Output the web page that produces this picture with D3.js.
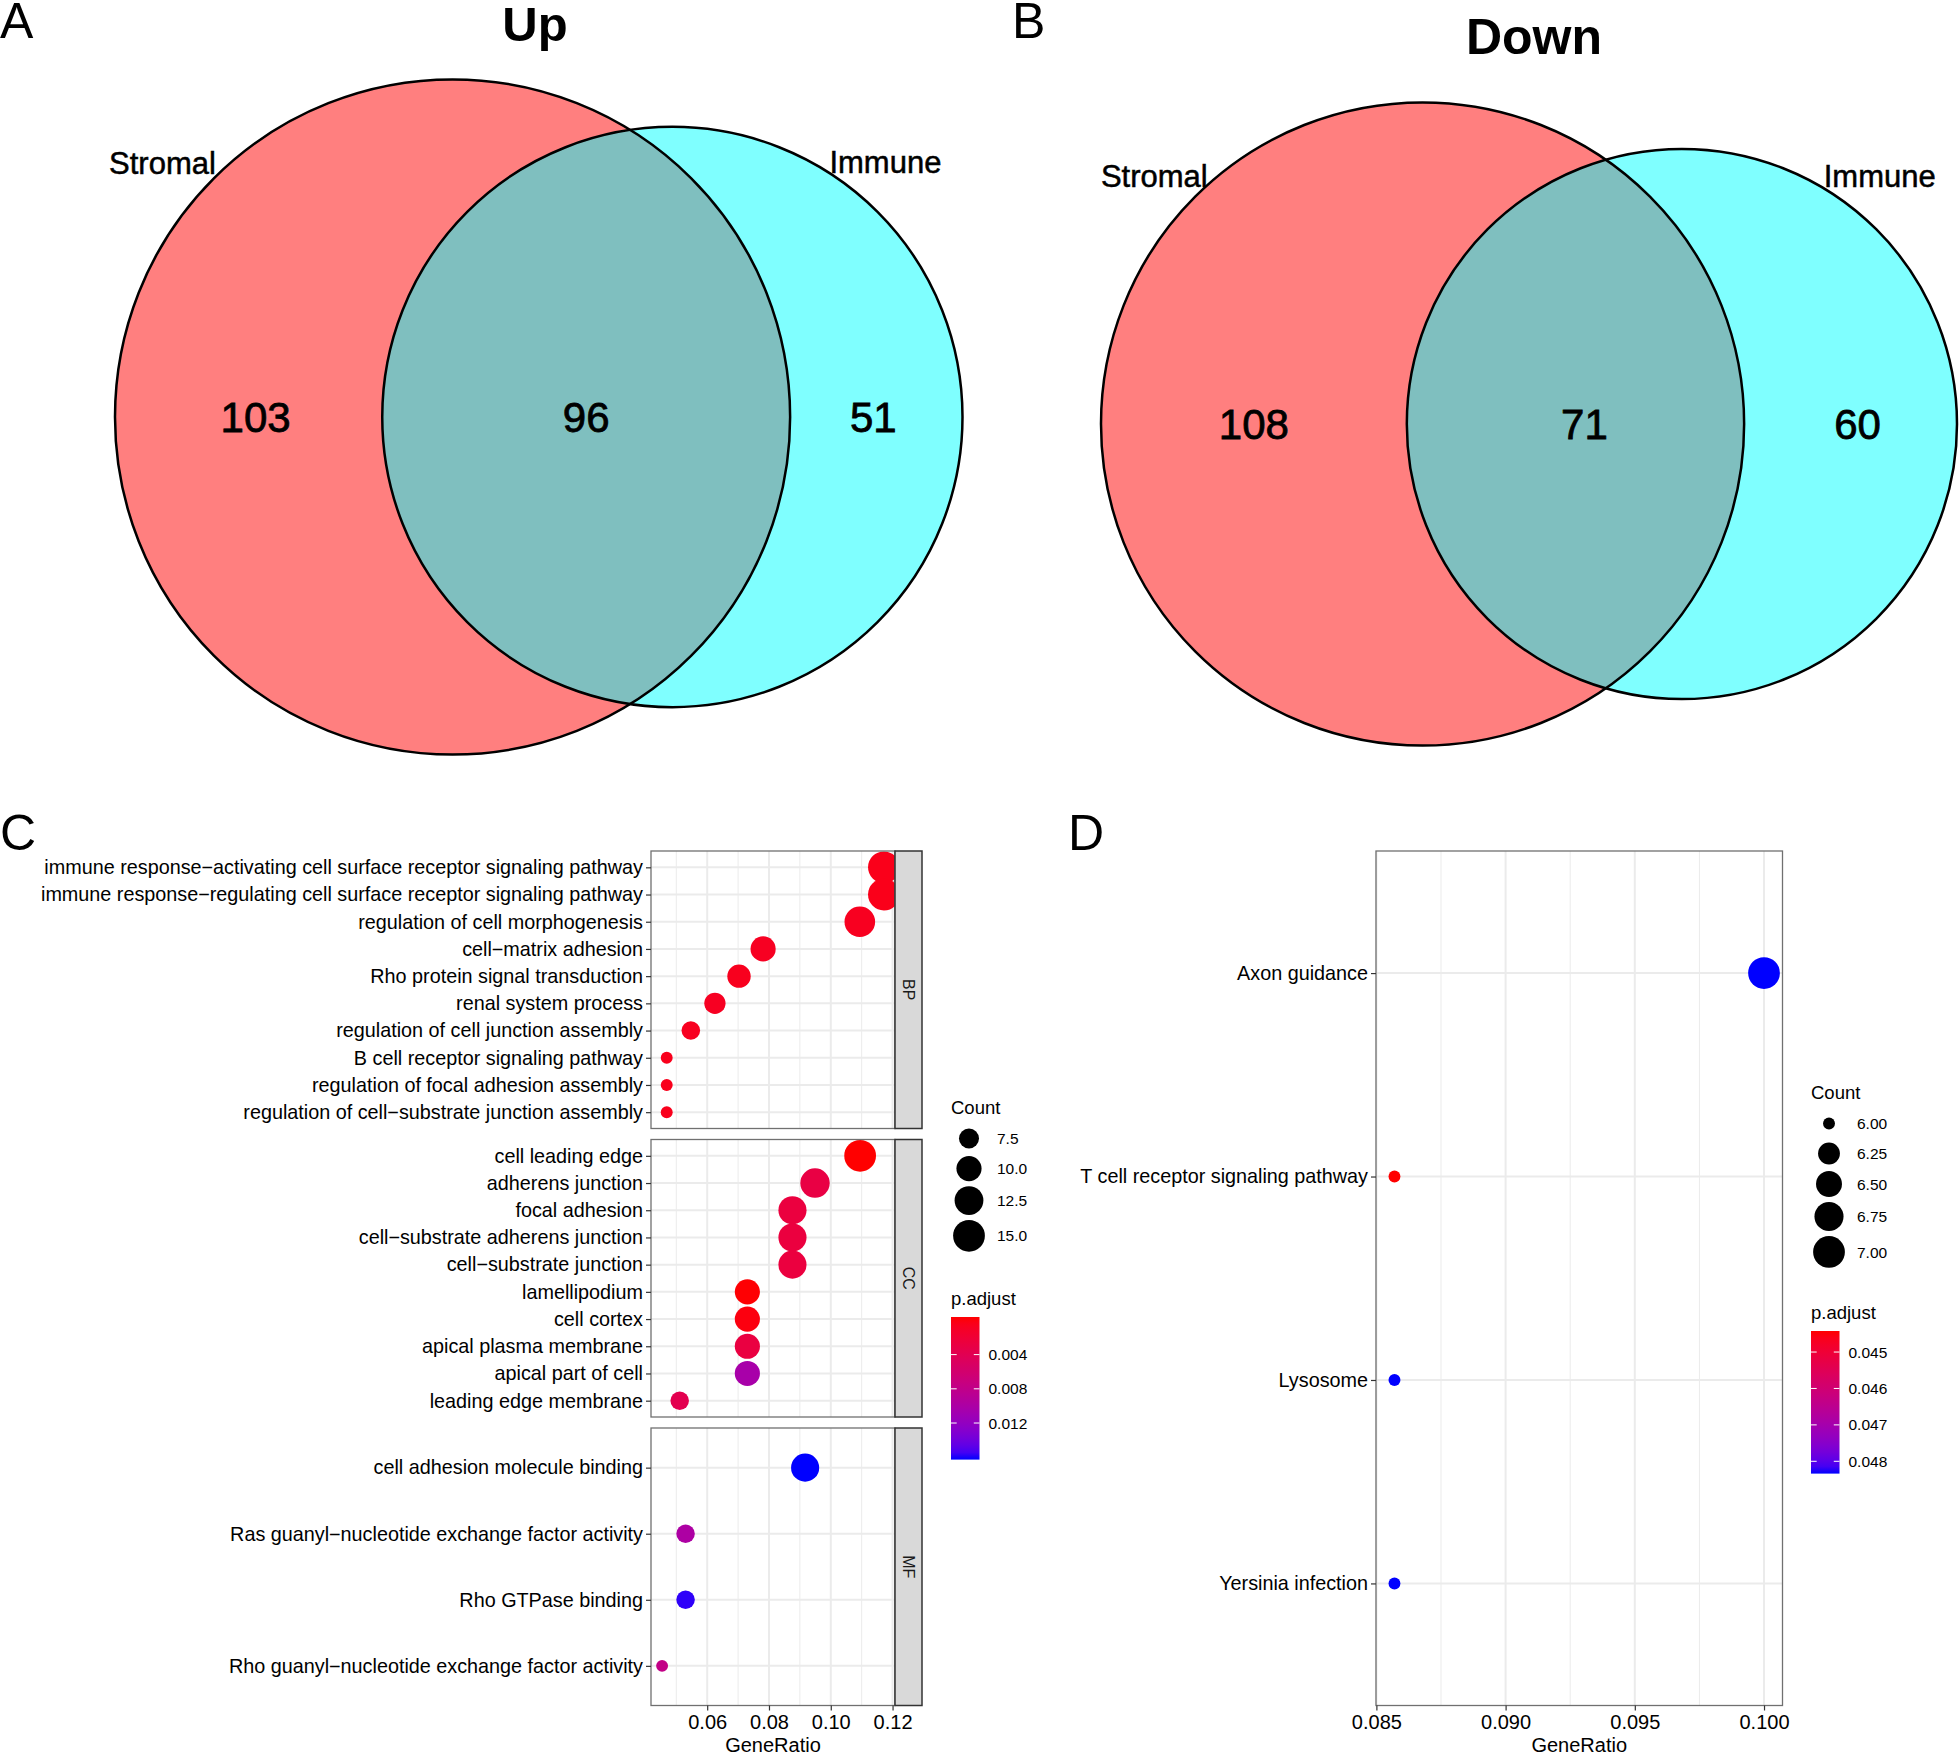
<!DOCTYPE html>
<html>
<head>
<meta charset="utf-8">
<script src="https://cdn.jsdelivr.net/npm/d3@7"></script>
<style>
  body { margin: 0; background: #fff; }
  svg { display: block; font-family: "Liberation Sans", Arial, sans-serif; }
</style>
</head>
<body>
<div id="chart"></div>
<script>
// ---- data ----
const vennSets = ['Stromal', 'Immune'];
const upCounts = [103, 96, 51];    // stromal only, both, immune only
const downCounts = [108, 71, 60];

const bpTerms = [
  'immune response\u2212activating cell surface receptor signaling pathway',
  'immune response\u2212regulating cell surface receptor signaling pathway',
  'regulation of cell morphogenesis',
  'cell\u2212matrix adhesion',
  'Rho protein signal transduction',
  'renal system process',
  'regulation of cell junction assembly',
  'B cell receptor signaling pathway',
  'regulation of focal adhesion assembly',
  'regulation of cell\u2212substrate junction assembly',
];
const bpRatio = [0.1172, 0.1172, 0.1094, 0.0781, 0.0703, 0.0625, 0.0547, 0.0469, 0.0469, 0.0469];
const bpCount = [15, 15, 14, 10, 9, 8, 7, 6, 6, 6];
const bpPadj = [0.0008, 0.0008, 0.0011, 0.0012, 0.0010, 0.0012, 0.0011, 0.0009, 0.0009, 0.0009];

const ccTerms = [
  'cell leading edge',
  'adherens junction',
  'focal adhesion',
  'cell\u2212substrate adherens junction',
  'cell\u2212substrate junction',
  'lamellipodium',
  'cell cortex',
  'apical plasma membrane',
  'apical part of cell',
  'leading edge membrane',
];
const ccRatio = [0.1095, 0.0949, 0.0876, 0.0876, 0.0876, 0.0730, 0.0730, 0.0730, 0.0730, 0.0511];
const ccCount = [15, 13, 12, 12, 12, 10, 10, 10, 10, 7];
const ccPadj = [0.00002, 0.0032, 0.0029, 0.0029, 0.0029, 0.0001, 0.0004, 0.0030, 0.0102, 0.0040];

const mfTerms = [
  'cell adhesion molecule binding',
  'Ras guanyl\u2212nucleotide exchange factor activity',
  'Rho GTPase binding',
  'Rho guanyl\u2212nucleotide exchange factor activity',
];
const mfRatio = [0.0917, 0.0530, 0.0530, 0.0454];
const mfCount = [12, 7, 7, 6];
const mfPadj = [0.01586, 0.0098, 0.0155, 0.0078];

const keggTerms = ['Axon guidance', 'T cell receptor signaling pathway', 'Lysosome', 'Yersinia infection'];
const keggRatio = [0.1000, 0.0857, 0.0857, 0.0857];
const keggCount = [7, 6, 6, 6];
const keggPadj = [0.04824, 0.04452, 0.04824, 0.04824];

const goTicks = [0.06, 0.08, 0.10, 0.12];
const goMinor = [0.05, 0.07, 0.09, 0.11];
const keggTicks = [0.085, 0.090, 0.095, 0.100];
const keggMinor = [0.0875, 0.0925, 0.0975];
const goCountBreaks = [7.5, 10, 12.5, 15];
const keggCountBreaks = [6, 6.25, 6.5, 6.75, 7];
const goPadjBreaks = [0.004, 0.008, 0.012];
const keggPadjBreaks = [0.045, 0.046, 0.047, 0.048];

// ---- setup ----
const width = 1960;
const height = 1754;
const sizeK = 3.97; // px per ggplot size unit

const svg = d3.select('#chart').append('svg')
  .attr('width', width)
  .attr('height', height);
const defs = svg.append('defs');

function panelLetter(text, x, y) {
  svg.append('text')
    .attr('x', x).attr('y', y)
    .attr('font-size', 50)
    .text(text);
}

panelLetter('A', 0, 38);
panelLetter('B', 1012, 38);
panelLetter('C', 0, 850);
panelLetter('D', 1068, 850);

// ---- venn ----
function lensArea(r1, r2, d) {
  if (d >= r1 + r2) return 0;
  if (d <= Math.abs(r1 - r2)) return Math.PI * Math.min(r1, r2) ** 2;
  const a1 = Math.acos((d * d + r1 * r1 - r2 * r2) / (2 * d * r1));
  const a2 = Math.acos((d * d + r2 * r2 - r1 * r1) / (2 * d * r2));
  return r1 * r1 * a1 + r2 * r2 * a2
    - 0.5 * Math.sqrt((-d + r1 + r2) * (d + r1 - r2) * (d - r1 + r2) * (d + r1 + r2));
}

function drawVenn(counts, opt) {
  const nA = counts[0] + counts[1];
  const nB = counts[2] + counts[1];
  // unit scale: area proportional to count
  const r = d3.scaleSqrt().domain([0, 1]).range([0, 1]);
  const r1u = r(nA);
  const r2u = r(nB);
  const target = Math.PI * counts[1];
  let lo = Math.abs(r1u - r2u);
  let hi = r1u + r2u;
  for (let i = 0; i < 60; i++) {
    const mid = (lo + hi) / 2;
    if (lensArea(r1u, r2u, mid) > target) lo = mid; else hi = mid;
  }
  const du = (lo + hi) / 2;
  const k = opt.w / (r1u + r2u + du);
  const r1 = r1u * k;
  const r2 = r2u * k;
  const d = du * k;
  const cx1 = opt.cx - opt.w / 2 + r1;
  const cx2 = cx1 + d;
  const cy = opt.cy;

  const g = svg.append('g');
  g.append('circle').attr('cx', cx1).attr('cy', cy).attr('r', r1)
    .attr('fill', 'red').attr('fill-opacity', 0.5);
  g.append('circle').attr('cx', cx2).attr('cy', cy).attr('r', r2)
    .attr('fill', 'cyan').attr('fill-opacity', 0.5);
  [[cx1, r1], [cx2, r2]].forEach(([cx, rr]) => {
    g.append('circle').attr('cx', cx).attr('cy', cy).attr('r', rr)
      .attr('fill', 'none').attr('stroke', '#000').attr('stroke-width', 2.5);
  });

  const edges = [cx1 - r1, cx2 - r2, cx1 + r1, cx2 + r2];
  const numX = [(edges[0] + edges[1]) / 2, (edges[1] + edges[2]) / 2, (edges[2] + edges[3]) / 2];
  g.selectAll('.num')
    .data(counts)
    .enter()
    .append('text')
    .attr('class', 'num')
    .attr('x', (v, i) => numX[i] + opt.numShift[i])
    .attr('y', cy)
    .attr('dy', '0.36em')
    .attr('text-anchor', 'middle')
    .attr('font-size', 42)
    .attr('stroke', '#000')
    .attr('stroke-width', 0.8)
    .text(v => v);

  const circles = [[cx1, r1], [cx2, r2]];
  const catX = (i) => circles[i][0] + (circles[i][1] + opt.catDist[i]) * Math.cos(opt.catAngles[i] * Math.PI / 180);
  const catY = (i) => cy + (circles[i][1] + opt.catDist[i]) * Math.sin(opt.catAngles[i] * Math.PI / 180);
  g.selectAll('.cat')
    .data(vennSets)
    .enter()
    .append('text')
    .attr('class', 'cat')
    .attr('x', (s, i) => catX(i))
    .attr('y', (s, i) => catY(i))
    .attr('dy', '0.36em')
    .attr('text-anchor', 'middle')
    .attr('font-size', 31)
    .attr('stroke', '#000')
    .attr('stroke-width', 0.5)
    .text(s => s);

  g.append('text')
    .attr('x', opt.titleX)
    .attr('y', opt.titleY)
    .attr('text-anchor', 'middle')
    .attr('font-size', opt.titleSize)
    .attr('font-weight', 'bold')
    .text(opt.title);
}

drawVenn(upCounts, {
  cx: 538.75, cy: 417, w: 847.5, catAngles: [-138.8, -50.1], catDist: [48, 42], numShift: [7, 0, -3],
  title: 'Up', titleX: 535, titleY: 41, titleSize: 49,
});
drawVenn(downCounts, {
  cx: 1529, cy: 424, w: 856, catAngles: [-137.2, -51.4], catDist: [44, 42], numShift: [0, 9, 7],
  title: 'Down', titleX: 1534, titleY: 54, titleSize: 50,
});

// ---- dot plots ----
function sizeScale(countDomain) {
  const t = d3.scaleLinear().domain(countDomain).range([0, 1]);
  const s = d3.scaleSqrt().domain([0, 1]).range([3 * sizeK / 2, 8 * sizeK / 2]);
  return c => s(t(c));
}

function expandedDomain(values) {
  const [a, b] = d3.extent(values);
  const pad = (b - a) * 0.05;
  return [a - pad, b + pad];
}

let clipId = 0;
function drawPanel(p) {
  const g = svg.append('g');
  const { x, y, top, bottom, left, right } = p;
  clipId += 1;
  defs.append('clipPath').attr('id', `clip${clipId}`)
    .append('rect').attr('x', left).attr('y', top)
    .attr('width', right - left).attr('height', bottom - top);

  g.append('rect').attr('x', left).attr('y', top)
    .attr('width', right - left).attr('height', bottom - top).attr('fill', '#fff');

  g.selectAll('.minor').data(p.minor).enter().append('line')
    .attr('x1', d => x(d)).attr('x2', d => x(d))
    .attr('y1', top).attr('y2', bottom)
    .attr('stroke', '#EBEBEB').attr('stroke-width', 1);
  g.selectAll('.majorx').data(p.ticks).enter().append('line')
    .attr('x1', d => x(d)).attr('x2', d => x(d))
    .attr('y1', top).attr('y2', bottom)
    .attr('stroke', '#EBEBEB').attr('stroke-width', 2);
  g.selectAll('.majory').data(p.terms).enter().append('line')
    .attr('x1', left).attr('x2', right)
    .attr('y1', d => y(d)).attr('y2', d => y(d))
    .attr('stroke', '#EBEBEB').attr('stroke-width', 2);

  g.append('g').attr('clip-path', `url(#clip${clipId})`)
    .selectAll('circle')
    .data(p.terms.map((term, i) => ({ term, ratio: p.ratio[i], count: p.count[i], padj: p.padj[i] })))
    .enter()
    .append('circle')
    .attr('cx', d => x(d.ratio))
    .attr('cy', d => y(d.term))
    .attr('r', d => p.size(d.count))
    .attr('fill', d => p.color(d.padj));

  g.append('rect').attr('x', left).attr('y', top)
    .attr('width', right - left).attr('height', bottom - top)
    .attr('fill', 'none').attr('stroke', '#707070').attr('stroke-width', 1.3);

  const yAxis = g.append('g')
    .attr('transform', `translate(${left},0)`)
    .call(d3.axisLeft(y).tickSize(5).tickPadding(3));
  yAxis.select('.domain').remove();
  yAxis.selectAll('line').attr('stroke', '#333').attr('stroke-width', 1.2);
  yAxis.selectAll('text').attr('font-size', 19.8).attr('fill', '#000')
    .attr('font-family', '"Liberation Sans", Arial, sans-serif');

  if (p.strip) {
    g.append('rect').attr('x', right).attr('y', top)
      .attr('width', 27).attr('height', bottom - top)
      .attr('fill', '#D9D9D9').attr('stroke', '#333').attr('stroke-width', 1.5);
    g.append('text')
      .attr('transform', `translate(${right + 13.5},${(top + bottom) / 2}) rotate(90)`)
      .attr('text-anchor', 'middle')
      .attr('dy', '0.36em')
      .attr('font-size', 16)
      .attr('fill', '#1A1A1A')
      .text(p.strip);
  }

  if (p.showX) {
    const xAxis = g.append('g')
      .attr('transform', `translate(0,${bottom})`)
      .call(d3.axisBottom(x).tickValues(p.ticks).tickFormat(p.format).tickSize(5).tickPadding(4));
    xAxis.select('.domain').remove();
    xAxis.selectAll('line').attr('stroke', '#333').attr('stroke-width', 1.2);
    xAxis.selectAll('text').attr('font-size', 20).attr('fill', '#000')
      .attr('font-family', '"Liberation Sans", Arial, sans-serif');
    g.append('text')
      .attr('x', (left + right) / 2)
      .attr('y', 1752)
      .attr('text-anchor', 'middle')
      .attr('font-size', 20)
      .text('GeneRatio');
  }
}

function drawLegends(o) {
  const g = svg.append('g');
  g.append('text').attr('x', o.x).attr('y', o.countY)
    .attr('font-size', 18.5).text('Count');
  let yy = o.countY + 10;
  o.countBreaks.forEach(c => {
    const r = o.size(c);
    const h = Math.max(30, 2 * r + 5);
    const cy = yy + h / 2;
    g.append('circle').attr('cx', o.x + 18).attr('cy', cy).attr('r', r).attr('fill', '#000');
    g.append('text').attr('x', o.x + 46).attr('y', cy).attr('dy', '0.36em')
      .attr('font-size', 15.5).text(o.countFormat(c));
    yy += h;
  });

  g.append('text').attr('x', o.x).attr('y', o.padjY)
    .attr('font-size', 18.5).text('p.adjust');
  const barTop = o.padjY + 12;
  const barH = 142.6;
  const barW = 28.5;
  const dom = o.color.domain();
  const gid = `grad${o.id}`;
  const grad = defs.append('linearGradient').attr('id', gid)
    .attr('x1', 0).attr('y1', 0).attr('x2', 0).attr('y2', 1);
  d3.range(0, 1.0001, 0.05).forEach(t => {
    grad.append('stop').attr('offset', t)
      .attr('stop-color', o.color(dom[0] + t * (dom[1] - dom[0])));
  });
  g.append('rect').attr('x', o.x).attr('y', barTop)
    .attr('width', barW).attr('height', barH).attr('fill', `url(#${gid})`);
  const by = d3.scaleLinear().domain(dom).range([barTop + barH * 0.025, barTop + barH * 0.975]);
  o.padjBreaks.forEach(v => {
    [o.x, o.x + barW - barW / 5].forEach(x0 => {
      g.append('line').attr('x1', x0).attr('x2', x0 + barW / 5)
        .attr('y1', by(v)).attr('y2', by(v))
        .attr('stroke', '#fff').attr('stroke-width', 1);
    });
    g.append('text').attr('x', o.x + barW + 9).attr('y', by(v)).attr('dy', '0.36em')
      .attr('font-size', 15.5).text(d3.format('.3f')(v));
  });
}

// panel C
const goX = d3.scaleLinear()
  .domain(expandedDomain(bpRatio.concat(ccRatio, mfRatio)))
  .range([651, 895]);
const goColor = d3.scaleLinear()
  .domain(d3.extent(bpPadj.concat(ccPadj, mfPadj)))
  .range(['red', 'blue'])
  .interpolate(d3.interpolateLab);
const goSize = sizeScale(d3.extent(bpCount.concat(ccCount, mfCount)));

const facets = [
  { strip: 'BP', terms: bpTerms, ratio: bpRatio, count: bpCount, padj: bpPadj, top: 851, bottom: 1128.5 },
  { strip: 'CC', terms: ccTerms, ratio: ccRatio, count: ccCount, padj: ccPadj, top: 1139.5, bottom: 1417 },
  { strip: 'MF', terms: mfTerms, ratio: mfRatio, count: mfCount, padj: mfPadj, top: 1428, bottom: 1705.5 },
];
facets.forEach((f, i) => {
  const y = d3.scalePoint().domain(f.terms).range([f.top, f.bottom]).padding(0.6);
  drawPanel(Object.assign({}, f, {
    x: goX, y, left: 651, right: 895,
    ticks: goTicks, minor: goMinor, format: d3.format('.2f'),
    size: goSize, color: goColor, showX: i === facets.length - 1,
  }));
});

drawLegends({
  id: 'C', x: 951, countY: 1113.5, padjY: 1305,
  size: goSize, countBreaks: goCountBreaks, countFormat: d3.format('.1f'),
  color: goColor, padjBreaks: goPadjBreaks,
});

// panel D
const keggX = d3.scaleLinear().domain(expandedDomain(keggRatio)).range([1376, 1782.5]);
const keggY = d3.scalePoint().domain(keggTerms).range([851, 1705.5]).padding(0.6);
const keggColor = d3.scaleLinear()
  .domain(d3.extent(keggPadj))
  .range(['red', 'blue'])
  .interpolate(d3.interpolateLab);
const keggSize = sizeScale(d3.extent(keggCount));

drawPanel({
  terms: keggTerms, ratio: keggRatio, count: keggCount, padj: keggPadj,
  top: 851, bottom: 1705.5, left: 1376, right: 1782.5,
  x: keggX, y: keggY, ticks: keggTicks, minor: keggMinor, format: d3.format('.3f'),
  size: keggSize, color: keggColor, showX: true,
});

drawLegends({
  id: 'D', x: 1811, countY: 1098.5, padjY: 1319,
  size: keggSize, countBreaks: keggCountBreaks, countFormat: d3.format('.2f'),
  color: keggColor, padjBreaks: keggPadjBreaks,
});
</script>
</body>
</html>
